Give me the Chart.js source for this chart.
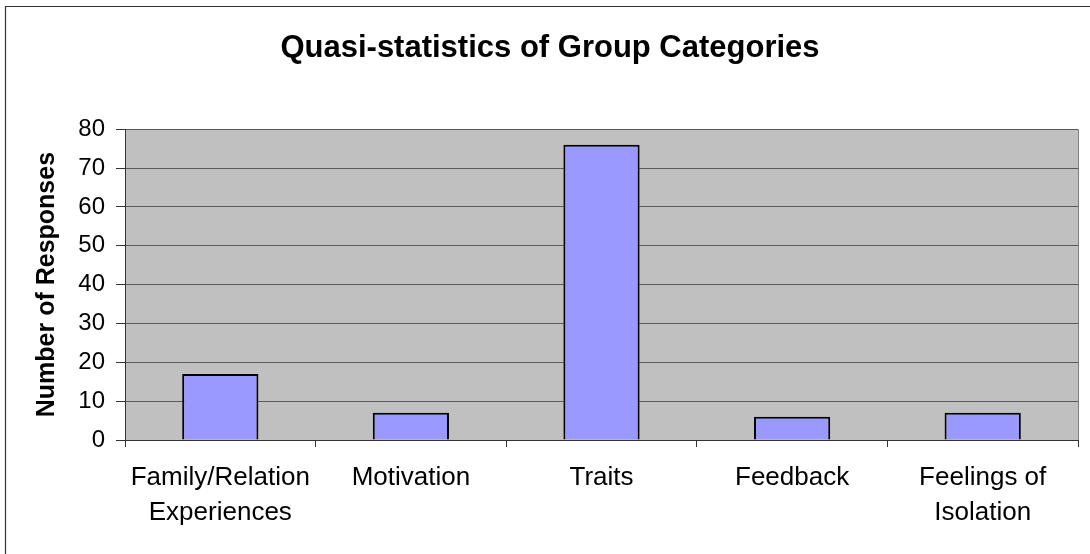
<!DOCTYPE html>
<html>
<head>
<meta charset="utf-8">
<script src="https://cdn.jsdelivr.net/npm/chart.js@4/dist/chart.umd.min.js"></script>
<style>
  html, body { margin: 0; padding: 0; background: #ffffff; }
  #wrap { width: 1090px; height: 554px; position: relative; }
</style>
</head>
<body>
<div id="wrap"><canvas id="c"></canvas></div>
<script>
// 데이터 — 그림에서 읽은 값
const CATEGORIES = [["Family/Relation", "Experiences"], "Motivation", "Traits", "Feedback", ["Feelings of", "Isolation"]];
const RESPONSES = [17, 7, 76, 6, 7];
const Y_MIN = 0;
const Y_MAX = 80;
const Y_STEP = 10;

const FONT = "'Liberation Sans', Arial, sans-serif";

// 플롯 배경(회색)과 바깥 테두리
const framePlugin = {
  id: "frame",
  beforeDraw(chart) {
    const { ctx, chartArea: a } = chart;
    ctx.save();
    ctx.fillStyle = "#ffffff";
    ctx.fillRect(0, 0, chart.width, chart.height);
    ctx.fillStyle = "#c0c0c0";
    ctx.fillRect(a.left, a.top, a.right - a.left, a.bottom - a.top);
    ctx.restore();
  },
  afterDraw(chart) {
    const { ctx, chartArea: a } = chart;
    ctx.save();
    // 오른쪽 플롯 경계
    ctx.strokeStyle = "#808080";
    ctx.lineWidth = 1;
    ctx.beginPath();
    ctx.moveTo(a.right + 0.5, a.top);
    ctx.lineTo(a.right + 0.5, a.bottom);
    ctx.stroke();
    // 차트 바깥 테두리 (오른쪽·아래는 잘려 있음)
    ctx.strokeStyle = "#333333";
    ctx.lineWidth = 1.2;
    ctx.beginPath();
    ctx.moveTo(5.5, chart.height + 5);
    ctx.lineTo(5.5, 6.5);
    ctx.lineTo(chart.width + 5, 6.5);
    ctx.stroke();
    ctx.restore();
  },
};

new Chart(document.getElementById("c"), {
  type: "bar",
  data: {
    labels: CATEGORIES,
    datasets: [{
      data: RESPONSES,
      backgroundColor: "#9999ff",
      borderColor: "#000000",
      borderWidth: 2,
      categoryPercentage: 0.8,
      barPercentage: 0.5,
    }],
  },
  options: {
    responsive: true,
    maintainAspectRatio: false,
    animation: false,
    // 왼쪽 여백을 주어 제목이 원본처럼 살짝 오른쪽에 오게 한다
    layout: { padding: { left: 22, right: 12, top: 0, bottom: 0 } },
    plugins: {
      legend: { display: false },
      tooltip: { enabled: false },
      title: {
        display: true,
        text: "Quasi-statistics of Group Categories",
        color: "#000000",
        font: { family: FONT, size: 31, weight: "bold" },
        lineHeight: 1.2,
        padding: { top: 30, bottom: 62 },
      },
    },
    scales: {
      x: {
        afterFit(scale) { scale.height = 114; },
        grid: {
          offset: true,
          drawOnChartArea: false,
          drawTicks: true,
          tickLength: 7,
          color: "#333333",
        },
        border: { color: "#333333", width: 1 },
        ticks: {
          color: "#000000",
          font: { family: FONT, size: 26, lineHeight: 1.32 },
          padding: 14,
          maxRotation: 0,
          autoSkip: false,
        },
      },
      y: {
        min: Y_MIN,
        max: Y_MAX,
        afterFit(scale) { scale.width = 103; },
        grid: {
          color: "#5a5a5a",
          lineWidth: 1,
          drawTicks: true,
          tickLength: 9,
          tickColor: "#333333",
        },
        border: { color: "#333333", width: 1 },
        ticks: {
          stepSize: Y_STEP,
          color: "#000000",
          font: { family: FONT, size: 24 },
          padding: 11,
        },
        title: {
          display: true,
          text: "Number of Responses",
          color: "#000000",
          font: { family: FONT, size: 25, weight: "bold" },
          padding: { top: 10, bottom: 0 },
        },
      },
    },
  },
  plugins: [framePlugin],
});
</script>
</body>
</html>
